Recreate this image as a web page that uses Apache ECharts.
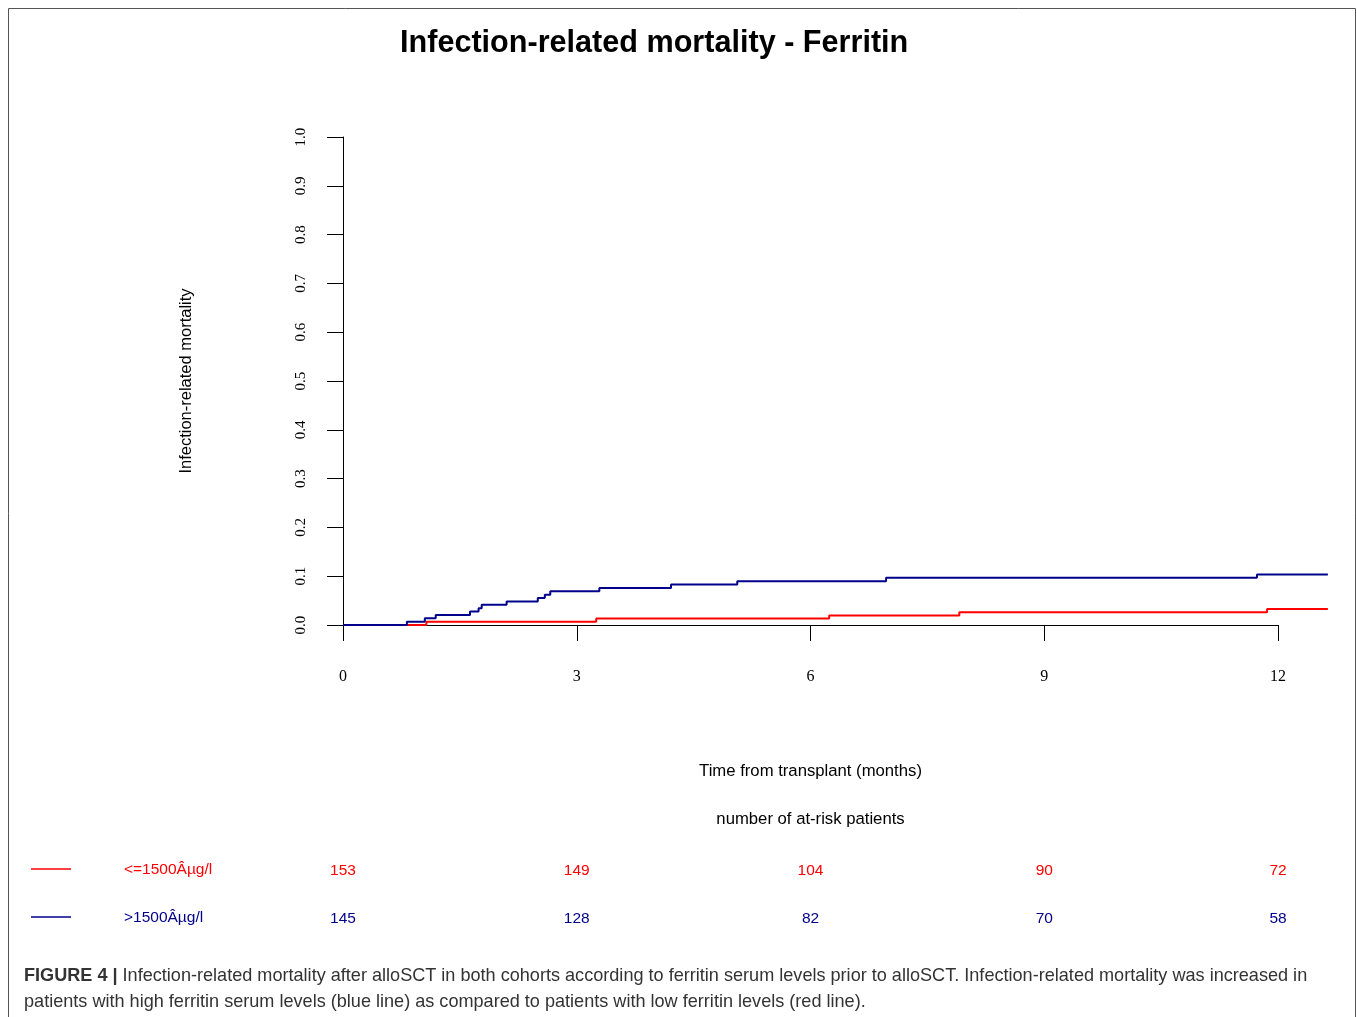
<!DOCTYPE html>
<html>
<head>
<meta charset="utf-8">
<script src="https://cdn.jsdelivr.net/npm/echarts@6/dist/echarts.min.js"></script>
<style>
html,body{margin:0;padding:0;background:#fff;}
#chart{width:1357px;height:1017px;}
</style>
</head>
<body>
<div id="chart"></div>
<script>
// ---- data ----
const groupNames = ['<=1500\u00C2\u00B5g/l', '>1500\u00C2\u00B5g/l'];
const lowTimes  = [0, 1.07, 3.25, 6.24, 7.91, 11.86, 12.64];
const lowCIF    = [0, 0.0065, 0.0131, 0.0196, 0.0261, 0.0327, 0.0327];
const highTimes = [0, 0.82, 1.05, 1.19, 1.63, 1.74, 1.78, 2.10, 2.50, 2.59, 2.66, 3.29, 4.21, 5.06, 6.97, 11.73, 12.64];
const highCIF   = [0, 0.0069, 0.0138, 0.0207, 0.0276, 0.0345, 0.0414, 0.0483, 0.0552, 0.0621, 0.0690, 0.0759, 0.0828, 0.0897, 0.0966, 0.1034, 0.1034];
const riskTimes = [0, 3, 6, 9, 12];
const riskLow   = [153, 149, 104, 90, 72];
const riskHigh  = [145, 128, 82, 70, 58];
const xTicks = [0, 3, 6, 9, 12];
const yTicks = [0.0, 0.1, 0.2, 0.3, 0.4, 0.5, 0.6, 0.7, 0.8, 0.9, 1.0];

const RED = '#FF0000', BLUE = '#00008B';
const serif = '"Liberation Serif", "DejaVu Serif", serif';
const sans = '"Liberation Sans", Arial, sans-serif';

const zip = (a, b) => a.map((v, i) => [v, b[i]]);

// plot geometry
const PL = 343, PT = 137, PW = 935, PH = 488;
const xMax = xTicks[xTicks.length - 1];
const curveMax = 13;                       // hidden axis used by the curves (extends past 12)
const curveW = PW * curveMax / xMax;

const chart = echarts.init(document.getElementById('chart'), null, {renderer: 'canvas'});
const option = {
  backgroundColor: '#fff',
  animation: false,
  title: {
    text: 'Infection-related mortality - Ferritin',
    left: 395, top: 23,
    textStyle: {fontFamily: sans, fontSize: 30.6, fontWeight: 'bold', color: '#000'}
  },
  grid: [
    {left: PL, top: PT, width: PW, height: PH},
    {left: PL, top: PT, width: curveW, height: PH},
    {left: PL, top: 847, width: PW, height: 96}
  ],
  xAxis: [
    {
      type: 'value', gridIndex: 0, min: xTicks[0], max: xMax, interval: 3,
      splitLine: {show: false},
      axisLine: {show: true, onZero: false, lineStyle: {color: '#000', width: 1}},
      axisTick: {show: true, length: 16, lineStyle: {color: '#000', width: 1}},
      axisLabel: {fontFamily: serif, fontSize: 16, color: '#000', margin: 44},
      name: 'Time from transplant (months)', nameLocation: 'middle', nameGap: 138,
      nameTextStyle: {fontFamily: sans, fontSize: 16.7, color: '#000'}
    },
    {type: 'value', gridIndex: 1, min: 0, max: curveMax, show: false},
    {type: 'value', gridIndex: 2, min: 0, max: xMax, show: false}
  ],
  yAxis: [
    {
      type: 'value', gridIndex: 0, min: yTicks[0], max: yTicks[yTicks.length - 1], interval: 0.1,
      splitLine: {show: false},
      axisLine: {show: true, onZero: false, lineStyle: {color: '#000', width: 1}},
      axisTick: {show: true, length: 16, lineStyle: {color: '#000', width: 1}},
      axisLabel: {fontFamily: serif, fontSize: 15, color: '#000', rotate: 90, margin: 34,
                  formatter: v => v.toFixed(1)},
      name: 'Infection-related mortality', nameLocation: 'middle', nameGap: 148,
      nameTextStyle: {fontFamily: sans, fontSize: 16.5, color: '#000'}
    },
    {type: 'value', gridIndex: 1, min: 0, max: 1, show: false},
    {type: 'category', gridIndex: 2, data: groupNames, inverse: true, show: false}
  ],
  series: [
    {
      name: groupNames[0], type: 'line', step: 'end', xAxisIndex: 1, yAxisIndex: 1,
      data: zip(lowTimes, lowCIF), showSymbol: false, symbol: 'none',
      lineStyle: {color: RED, width: 2}, z: 3
    },
    {
      name: groupNames[1], type: 'line', step: 'end', xAxisIndex: 1, yAxisIndex: 1,
      data: zip(highTimes, highCIF), showSymbol: false, symbol: 'none',
      lineStyle: {color: BLUE, width: 2}, z: 4
    },
    {
      type: 'scatter', xAxisIndex: 2, yAxisIndex: 2, symbolSize: 0.01,
      itemStyle: {opacity: 1},
      data: riskTimes.map((t, i) => [t, groupNames[0], riskLow[i]]),
      label: {show: true, position: 'inside', formatter: p => p.value[2],
              fontFamily: sans, fontSize: 15.5, color: RED}
    },
    {
      type: 'scatter', xAxisIndex: 2, yAxisIndex: 2, symbolSize: 0.01,
      itemStyle: {opacity: 1},
      data: riskTimes.map((t, i) => [t, groupNames[1], riskHigh[i]]),
      label: {show: true, position: 'inside', formatter: p => p.value[2],
              fontFamily: sans, fontSize: 15.5, color: BLUE}
    }
  ],
  graphic: [
    {type: 'rect', shape: {x: 8.5, y: 8.5, width: 1347, height: 1030},
     style: {fill: 'none', stroke: '#555', lineWidth: 1}, silent: true},
    {type: 'text', x: PL + PW / 2, y: 819,
     style: {text: 'number of at-risk patients', font: '16.7px ' + sans, fill: '#000',
             textAlign: 'center', textVerticalAlign: 'middle'}},
    {type: 'line', shape: {x1: 31, y1: 869, x2: 71, y2: 869}, style: {stroke: RED, lineWidth: 1.5}},
    {type: 'line', shape: {x1: 31, y1: 917, x2: 71, y2: 917}, style: {stroke: BLUE, lineWidth: 1.5}},
    {type: 'text', x: 124, y: 870,
     style: {text: groupNames[0], font: '15.5px ' + sans, fill: RED, textVerticalAlign: 'middle'}},
    {type: 'text', x: 124, y: 918,
     style: {text: groupNames[1], font: '15.5px ' + sans, fill: BLUE, textVerticalAlign: 'middle'}},
    {type: 'text', x: 24, y: 976,
     style: {
       text: '{b|FIGURE 4 |} Infection-related mortality after alloSCT in both cohorts according to ferritin serum levels prior to alloSCT. Infection-related mortality was increased in',
       rich: {b: {font: 'bold 18.1px ' + sans, fill: '#333'}},
       font: '18.1px ' + sans, fill: '#333', textVerticalAlign: 'middle'
     }},
    {type: 'text', x: 24, y: 1002,
     style: {
       text: 'patients with high ferritin serum levels (blue line) as compared to patients with low ferritin levels (red line).',
       font: '18.1px ' + sans, fill: '#333', textVerticalAlign: 'middle'
     }}
  ]
};
chart.setOption(option);
</script>
</body>
</html>
